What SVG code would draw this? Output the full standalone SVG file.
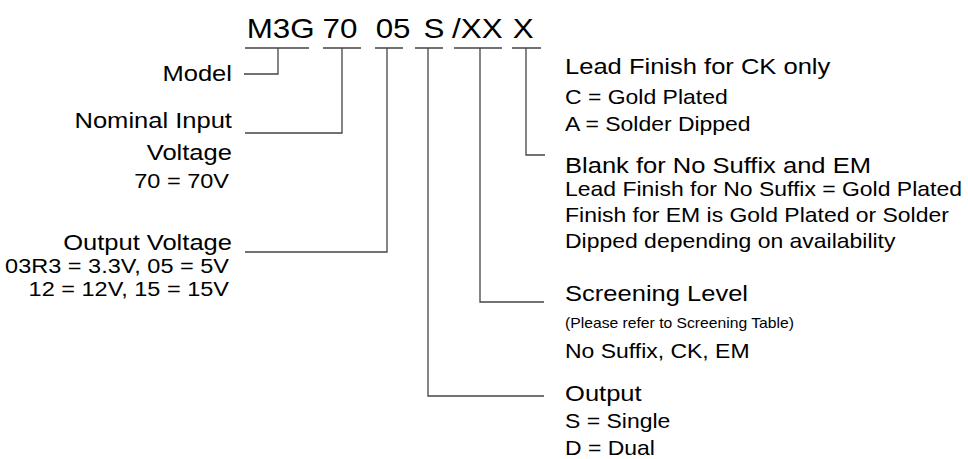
<svg xmlns="http://www.w3.org/2000/svg" width="968" height="459" viewBox="0 0 968 459">
<style>
text{font-family:"Liberation Sans",Arial,Helvetica,sans-serif;fill:#000}
.code{font-size:28px}
.big{font-size:22.8px}
.small{font-size:20.5px}
.lsmall{font-size:21px}
.tiny{font-size:14px}
.end{text-anchor:end}
.ln{fill:none;stroke:#444;stroke-width:1.3}
</style>
<rect width="968" height="459" fill="#fff"/>
<g id="code" transform="scale(1.12 1)">
<text class="code" x="220.3" y="38">M3G</text>
<text class="code" x="287.9" y="38">70</text>
<text class="code" x="335.4" y="38">05</text>
<text class="code" x="378.1" y="38">S</text>
<text class="code" x="403.6" y="38">/XX</text>
<text class="code" x="457.8" y="38">X</text>
</g>
<g id="connectors">
<path class="ln" d="M245 48H309M323 48H361M375 48H403M415 48H443M454 48H502M512 48H541"/>
<path class="ln" d="M278 48V74H244"/>
<path class="ln" d="M342 48V133H245"/>
<path class="ln" d="M387 48V252H245"/>
<path class="ln" d="M428 48V396H544"/>
<path class="ln" d="M480 48V302H544"/>
<path class="ln" d="M526 48V155H545"/>
</g>
<g id="model" transform="scale(1.12 1)">
<text class="big end" x="207.1" y="81">Model</text>
</g>
<g id="input-voltage" transform="scale(1.12 1)">
<text class="big end" x="207.1" y="128">Nominal Input</text>
<text class="big end" x="207.1" y="160">Voltage</text>
<text class="lsmall end" x="204.5" y="188">70 = 70V</text>
</g>
<g id="output-voltage" transform="scale(1.12 1)">
<text class="big end" x="207.1" y="250">Output Voltage</text>
<text class="lsmall end" x="204.5" y="273">03R3 = 3.3V, 05 = 5V</text>
<text class="lsmall end" x="204.5" y="296">12 = 12V, 15 = 15V</text>
</g>
<g id="lead-finish" transform="scale(1.12 1)">
<text class="big" x="504.5" y="74">Lead Finish for CK only</text>
<text class="small" x="504.5" y="104">C = Gold Plated</text>
<text class="small" x="504.5" y="131">A = Solder Dipped</text>
</g>
<g id="blank" transform="scale(1.12 1)">
<text class="big" x="504.5" y="173">Blank for No Suffix and EM</text>
<text class="small" x="504.5" y="196">Lead Finish for No Suffix = Gold Plated</text>
<text class="small" x="504.5" y="222">Finish for EM is Gold Plated or Solder</text>
<text class="small" x="504.5" y="248">Dipped depending on availability</text>
</g>
<g id="screening" transform="scale(1.12 1)">
<text class="big" x="504.5" y="301">Screening Level</text>
<text class="tiny" x="504.5" y="328">(Please refer to Screening Table)</text>
<text class="small" x="504.5" y="358">No Suffix, CK, EM</text>
</g>
<g id="output" transform="scale(1.12 1)">
<text class="big" x="504.5" y="401">Output</text>
<text class="small" x="504.5" y="428">S = Single</text>
<text class="small" x="504.5" y="455">D = Dual</text>
</g>
</svg>
